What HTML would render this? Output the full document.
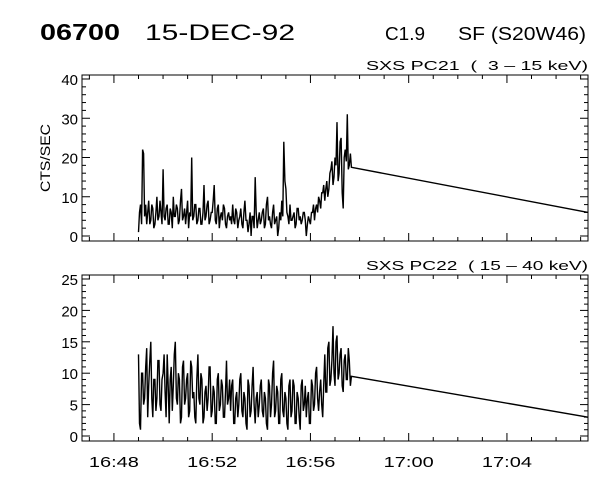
<!DOCTYPE html>
<html><head><meta charset="utf-8"><style>
body{margin:0;background:#fff;}
svg{display:block;font-family:"Liberation Sans",sans-serif;}
text{white-space:pre;}
</style></head><body>
<svg id="c" width="600" height="480">
<text x="40" y="40" font-size="23" font-weight="bold" textLength="80" lengthAdjust="spacingAndGlyphs">06700</text>
<text x="145" y="40" font-size="22" textLength="150" lengthAdjust="spacingAndGlyphs">15-DEC-92</text>
<text x="385" y="40" font-size="18" textLength="40" lengthAdjust="spacingAndGlyphs">C1.9</text>
<text x="458" y="40" font-size="18" textLength="128" lengthAdjust="spacingAndGlyphs">SF (S20W46)</text>
<text x="50" y="158" font-size="14" transform="rotate(-90 50 158)" text-anchor="middle" textLength="68" lengthAdjust="spacingAndGlyphs">CTS/SEC</text>
</svg>
<script>
const xTickLabels=["16:48","16:52","16:56","17:00","17:04"];
const startMin=49.0, dtSec=2.5;
const topVals=[1,6,8,3,22,21,5,8,3,6,9,3,4,8,7,2,3,6,10,4,5,9,6,3,17,5,4,7,8,3,
3,7,6,2,10,5,5,8,7,3,4,9,12,4,5,7,3,6,9,2,6,5,20,4,5,8,8,3,4,7,
7,3,3,6,13,4,5,8,9,3,4,6,6,9,13,4,3,7,8,2,5,6,4,8,7,3,2,5,6,4,
5,3,8,4,3,7,6,2,4,5,7,3,2,6,9,4,4,1,3,6,0,5,5,2,15,6,2,4,6,3,
4,6,7,2,3,8,10,4,5,3,2,6,8,3,4,5,0,2,6,4,9,5,24,14,12,6,5,3,8,4,
4,5,6,2,3,7,7,4,5,3,4,6,6,4,0,3,5,4,3,6,6,8,4,7,8,6,10,9,7,11,
11,13,9,12,14,10,12,16,17,19,13,15,20,18,29,14,16,24,25,11,7,20,22,19,31,17,18,21,17.5];
const botVals=[13,2,1,10,10,5,6,11,14,3,8,12,15,6,3,9,9,4,6,12,12,5,4,9,10,13,7,3,13,8,
2,9,11,4,8,13,15,6,5,10,9,2,3,11,12,5,6,9,10,3,4,12,11,6,7,3,2,9,13,6,
5,10,9,2,3,7,8,4,6,11,11,3,4,8,7,2,2,9,10,4,5,9,8,3,3,7,12,5,6,9,
4,8,9,2,2,6,7,3,5,9,10,4,3,7,6,2,1,9,8,3,4,8,11,5,2,6,7,3,5,8,
9,4,3,7,6,2,1,9,8,3,5,10,12,3,4,8,7,2,2,9,10,4,3,7,6,2,1,8,9,3,
4,9,8,2,2,7,6,3,1,8,9,4,5,8,3,6,7,2,2,9,8,4,5,10,11,6,4,7,9,5,
3,8,13,7,7,14,15,8,9,12,17.5,10,8,15,16,9,10,13,14,8,7,12,13,9,9,14,12,8,9.5];
const topEnd=6, botEnd=3;
const topTicks=[0,10,20,30,40], botTicks=[0,5,10,15,20,25];
const NS="http://www.w3.org/2000/svg", svg=document.getElementById('c');
const X0=82,X1=588, M0=46.7, M1=67.3;
const xs=m=>X0+(m-M0)/(M1-M0)*(X1-X0);
function mk(t,a){const e=document.createElementNS(NS,t);for(const k in a)e.setAttribute(k,a[k]);svg.appendChild(e);return e;}
function panel(y0,y1,vmax,ticks,minorStep,vals,endVal,label,name){
  const ys=v=>y1-5-(v/vmax)*(y1-5-(y0+4));
  const fr=mk('rect',{x:X0,y:y0,width:X1-X0,height:y1-y0,fill:'none',stroke:'#000','stroke-width':1});
  
  
  for(let v=0;v<=vmax+1e-9;v+=minorStep){
    const maj=ticks.includes(v), L=maj?8:4, y=ys(v);
    mk('line',{x1:X0,x2:X0+L,y1:y,y2:y,stroke:'#000'});
    mk('line',{x1:X1-L,x2:X1,y1:y,y2:y,stroke:'#000'});
  }
  ticks.forEach(v=>{const t=mk('text',{x:X0-4,y:ys(v)+6,'font-size':15,'text-anchor':'end'});t.textContent=v;
    
    });
  for(let m=47;m<=67;m++){const maj=(m%4===0),L=maj?8:4,x=xs(m);
    mk('line',{x1:x,x2:x,y1:y1,y2:y1-L,stroke:'#000'});
    mk('line',{x1:x,x2:x,y1:y0,y2:y0+L,stroke:'#000'});}
  let d='';vals.forEach((v,i)=>{const m=startMin+i*dtSec/60;d+=(i?'L':'M')+xs(m).toFixed(1)+' '+ys(v).toFixed(1);});
  d+='L'+X1+' '+ys(endVal).toFixed(1);
  const p=mk('path',{d:d,fill:'none',stroke:'#000','stroke-width':1.4});
  
  
  const t=mk('text',{x:X1,y:y0-5,'font-size':13,'text-anchor':'end',textLength:222,lengthAdjust:'spacingAndGlyphs'});t.textContent=label;
  
  
}
panel(75,241,40,topTicks,2,topVals,topEnd,"SXS PC21  (  3 \u2013 15 keV)","pc21");
panel(275,441,25,botTicks,1,botVals,botEnd,"SXS PC22  ( 15 \u2013 40 keV)","pc22");
xTickLabels.forEach((l,i)=>{const t=mk('text',{x:xs(48+4*i),y:467,'font-size':15,'text-anchor':'middle',textLength:50,lengthAdjust:'spacingAndGlyphs'});t.textContent=l;
  
  });
</script>
</body></html>
